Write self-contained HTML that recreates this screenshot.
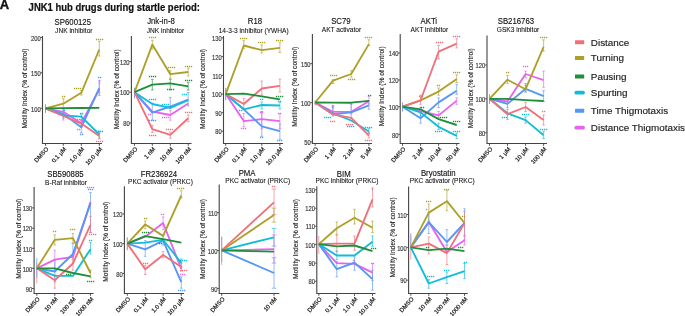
<!DOCTYPE html><html><head><meta charset="utf-8"><style>html,body{margin:0;padding:0;background:#fff;width:685px;height:316px;overflow:hidden}svg{display:block}#w{filter:blur(0.5px)}text{font-family:"Liberation Sans",sans-serif}</style></head><body><div id="w">
<svg width="685" height="316" viewBox="0 0 685 316">
<rect width="685" height="316" fill="#fff"/>
<text transform="translate(-0.3,9)" font-size="13" font-weight="bold" fill="#111" stroke="#111" stroke-width="0.35">A</text>
<text transform="translate(28.6,10.5) scale(1,1.12)" font-size="9.5" font-weight="bold" fill="#111" stroke="#111" stroke-width="0.2">JNK1 hub drugs during startle period:</text>
<text transform="translate(72.8,24.5) scale(1,1.1)" font-size="7.8" text-anchor="middle" fill="#111" stroke="#111" stroke-width="0.12">SP600125</text>
<text transform="translate(73.8,33)" font-size="6.6" text-anchor="middle" fill="#111" stroke="#111" stroke-width="0.08">JNK inhibitor</text>
<g fill="none" stroke-width="0.7" opacity="0.9"><path d="M45.5 104.3V112.9" stroke="#F0707A"/><path d="M45.5 104.3V112.9" stroke="#5597F5"/><path d="M63.3 98.7V108.5M62 98.7H64.6M62 108.5H64.6" stroke="#ADA02A"/><path d="M63.3 109V120M62 109H64.6M62 120H64.6" stroke="#E763EE"/><path d="M63.3 110V118M62 110H64.6M62 118H64.6" stroke="#5597F5"/><path d="M81.3 90.5V95M80 90.5H82.6M80 95H82.6" stroke="#ADA02A"/><path d="M81.3 114V120M80 114H82.6M80 120H82.6" stroke="#12BCD8"/><path d="M81.3 125.6V132.8M80 125.6H82.6M80 132.8H82.6" stroke="#5597F5"/><path d="M81.3 120V127M80 120H82.6M80 127H82.6" stroke="#E763EE"/><path d="M81.3 120V127M80 120H82.6M80 127H82.6" stroke="#F0707A"/><path d="M99.3 41.3V56M98 41.3H100.6M98 56H100.6" stroke="#ADA02A"/><path d="M99.3 81V95.4M98 81H100.6M98 95.4H100.6" stroke="#5597F5"/><path d="M99.3 83V93M98 83H100.6M98 93H100.6" stroke="#E763EE"/><path d="M99.3 131V138M98 131H100.6M98 138H100.6" stroke="#12BCD8"/><path d="M99.3 133V139M98 133H100.6M98 139H100.6" stroke="#F0707A"/></g>
<polyline points="45.5,108.3 63.3,111.9 81.3,123.2 99.3,89.3" fill="none" stroke="#E763EE" stroke-width="1.85" stroke-linejoin="round"/>
<polyline points="45.5,108.3 63.3,113.9 81.3,127.3 99.3,88.2" fill="none" stroke="#5597F5" stroke-width="1.85" stroke-linejoin="round"/>
<polyline points="45.5,108.3 63.3,115.4 81.3,116.6 99.3,134.5" fill="none" stroke="#12BCD8" stroke-width="1.85" stroke-linejoin="round"/>
<polyline points="45.5,108.3 63.3,103.7 81.3,92.8 99.3,49.5" fill="none" stroke="#ADA02A" stroke-width="1.85" stroke-linejoin="round"/>
<polyline points="45.5,108.3 63.3,116 81.3,123.6 99.3,135.9" fill="none" stroke="#F0707A" stroke-width="1.85" stroke-linejoin="round"/>
<polyline points="45.5,108.3 63.3,108.1 81.3,108 99.3,107.8" fill="none" stroke="#1F8F3A" stroke-width="1.85" stroke-linejoin="round"/>
<g><rect x="61.9" y="95.8" width="1.3" height="1.4" fill="#ADA02A"/><rect x="63.9" y="95.8" width="1.3" height="1.4" fill="#ADA02A"/><rect x="73.9" y="87.8" width="1.3" height="1.4" fill="#ADA02A"/><rect x="75.9" y="87.8" width="1.3" height="1.4" fill="#ADA02A"/><rect x="77.9" y="87.8" width="1.3" height="1.4" fill="#ADA02A"/><rect x="79.9" y="87.8" width="1.3" height="1.4" fill="#ADA02A"/><rect x="95.9" y="38.8" width="1.3" height="1.4" fill="#ADA02A"/><rect x="97.9" y="38.8" width="1.3" height="1.4" fill="#ADA02A"/><rect x="99.9" y="38.8" width="1.3" height="1.4" fill="#ADA02A"/><rect x="101.9" y="38.8" width="1.3" height="1.4" fill="#ADA02A"/><rect x="63.9" y="109.8" width="1.3" height="1.4" fill="#5597F5"/><rect x="79.9" y="112.8" width="1.3" height="1.4" fill="#12BCD8"/><rect x="81.9" y="112.8" width="1.3" height="1.4" fill="#12BCD8"/><rect x="76.9" y="118.8" width="1.3" height="1.4" fill="#F0707A"/><rect x="78.9" y="118.8" width="1.3" height="1.4" fill="#F0707A"/><rect x="76.9" y="128.8" width="1.3" height="1.4" fill="#E763EE"/><rect x="78.9" y="128.8" width="1.3" height="1.4" fill="#E763EE"/><rect x="79.9" y="133.8" width="1.3" height="1.4" fill="#5597F5"/><rect x="81.9" y="133.8" width="1.3" height="1.4" fill="#5597F5"/><rect x="97.9" y="76.8" width="1.3" height="1.4" fill="#5597F5"/><rect x="99.9" y="76.8" width="1.3" height="1.4" fill="#5597F5"/><rect x="98.9" y="79.8" width="1.3" height="1.4" fill="#E763EE"/><rect x="95.9" y="130.8" width="1.3" height="1.4" fill="#12BCD8"/><rect x="97.9" y="130.8" width="1.3" height="1.4" fill="#12BCD8"/><rect x="99.9" y="130.8" width="1.3" height="1.4" fill="#12BCD8"/><rect x="101.9" y="130.8" width="1.3" height="1.4" fill="#12BCD8"/><rect x="95.9" y="140.8" width="1.3" height="1.4" fill="#F0707A"/><rect x="97.9" y="140.8" width="1.3" height="1.4" fill="#F0707A"/><rect x="99.9" y="140.8" width="1.3" height="1.4" fill="#F0707A"/><rect x="101.9" y="140.8" width="1.3" height="1.4" fill="#F0707A"/></g>
<path d="M42.5 36V143.5H102" fill="none" stroke="#444" stroke-width="1.1"/>
<path d="M40.4 37.5H42.5" stroke="#444" stroke-width="0.9"/>
<text transform="translate(40.7,40.7) scale(1,1.2)" font-size="5.8" text-anchor="end" fill="#3a3a3a" stroke="#3a3a3a" stroke-width="0.15">200</text>
<path d="M40.4 72.8H42.5" stroke="#444" stroke-width="0.9"/>
<text transform="translate(40.7,76) scale(1,1.2)" font-size="5.8" text-anchor="end" fill="#3a3a3a" stroke="#3a3a3a" stroke-width="0.15">150</text>
<path d="M40.4 108.3H42.5" stroke="#444" stroke-width="0.9"/>
<text transform="translate(40.7,111.5) scale(1,1.2)" font-size="5.8" text-anchor="end" fill="#3a3a3a" stroke="#3a3a3a" stroke-width="0.15">100</text>
<path d="M45.5 143.5V145.8" stroke="#444" stroke-width="0.9"/>
<text transform="translate(48.8,149.4) rotate(-48)" font-size="6.0" text-anchor="end" fill="#222" stroke="#222" stroke-width="0.22">DMSO</text>
<path d="M63.3 143.5V145.8" stroke="#444" stroke-width="0.9"/>
<text transform="translate(66.6,149.4) rotate(-48)" font-size="6.0" text-anchor="end" fill="#222" stroke="#222" stroke-width="0.22">0.1 μM</text>
<path d="M81.3 143.5V145.8" stroke="#444" stroke-width="0.9"/>
<text transform="translate(84.6,149.4) rotate(-48)" font-size="6.0" text-anchor="end" fill="#222" stroke="#222" stroke-width="0.22">1.0 μM</text>
<path d="M99.3 143.5V145.8" stroke="#444" stroke-width="0.9"/>
<text transform="translate(102.6,149.4) rotate(-48)" font-size="6.0" text-anchor="end" fill="#222" stroke="#222" stroke-width="0.22">10.0 μM</text>
<text transform="translate(27.1,88.55) rotate(-90)" font-size="6.65" text-anchor="middle" fill="#222" stroke="#222" stroke-width="0.12">Motility Index (% of control)</text>
<text transform="translate(161,24.4) scale(1,1.1)" font-size="7.8" text-anchor="middle" fill="#111" stroke="#111" stroke-width="0.12">Jnk-in-8</text>
<text transform="translate(165.4,32.8)" font-size="6.6" text-anchor="middle" fill="#111" stroke="#111" stroke-width="0.08">JNK inhibitor</text>
<g fill="none" stroke-width="0.7" opacity="0.9"><path d="M134.5 87.9V98.3" stroke="#F0707A"/><path d="M134.5 87.9V98.3" stroke="#5597F5"/><path d="M152.3 40.2V49M151 40.2H153.6M151 49H153.6" stroke="#ADA02A"/><path d="M152.3 79.4V90M151 79.4H153.6M151 90H153.6" stroke="#1F8F3A"/><path d="M152.3 103V120.2M151 103H153.6M151 120.2H153.6" stroke="#5597F5"/><path d="M152.3 125.3V132.5M151 125.3H153.6M151 132.5H153.6" stroke="#F0707A"/><path d="M170.3 70.7V78.2M169 70.7H171.6M169 78.2H171.6" stroke="#ADA02A"/><path d="M170.3 79.4V89.8M169 79.4H171.6M169 89.8H171.6" stroke="#1F8F3A"/><path d="M170.3 97.4V108.8M169 97.4H171.6M169 108.8H171.6" stroke="#5597F5"/><path d="M170.3 110.7V120.2M169 110.7H171.6M169 120.2H171.6" stroke="#E763EE"/><path d="M170.3 132.1V138.2M169 132.1H171.6M169 138.2H171.6" stroke="#F0707A"/><path d="M188.2 68.1V76M186.9 68.1H189.5M186.9 76H189.5" stroke="#ADA02A"/><path d="M188.2 82.4V90M186.9 82.4H189.5M186.9 90H189.5" stroke="#1F8F3A"/><path d="M188.2 92.6V105.9M186.9 92.6H189.5M186.9 105.9H189.5" stroke="#5597F5"/><path d="M188.2 115V121.6M186.9 115H189.5M186.9 121.6H189.5" stroke="#F0707A"/></g>
<polyline points="134.5,92.2 152.3,111.6 170.3,115 188.2,103.5" fill="none" stroke="#E763EE" stroke-width="1.85" stroke-linejoin="round"/>
<polyline points="134.5,92.2 152.3,112.6 170.3,106.5 188.2,99.7" fill="none" stroke="#5597F5" stroke-width="1.85" stroke-linejoin="round"/>
<polyline points="134.5,92.2 152.3,104 170.3,107.8 188.2,100.2" fill="none" stroke="#12BCD8" stroke-width="1.85" stroke-linejoin="round"/>
<polyline points="134.5,92.2 152.3,44.6 170.3,74.2 188.2,72" fill="none" stroke="#ADA02A" stroke-width="1.85" stroke-linejoin="round"/>
<polyline points="134.5,92.2 152.3,129.1 170.3,134.9 188.2,118.3" fill="none" stroke="#F0707A" stroke-width="1.85" stroke-linejoin="round"/>
<polyline points="134.5,92.2 152.3,84.7 170.3,83.4 188.2,86.4" fill="none" stroke="#1F8F3A" stroke-width="1.85" stroke-linejoin="round"/>
<g><rect x="148.9" y="36.8" width="1.3" height="1.4" fill="#ADA02A"/><rect x="150.9" y="36.8" width="1.3" height="1.4" fill="#ADA02A"/><rect x="152.9" y="36.8" width="1.3" height="1.4" fill="#ADA02A"/><rect x="154.9" y="36.8" width="1.3" height="1.4" fill="#ADA02A"/><rect x="167.9" y="66.8" width="1.3" height="1.4" fill="#ADA02A"/><rect x="169.9" y="66.8" width="1.3" height="1.4" fill="#ADA02A"/><rect x="171.9" y="66.8" width="1.3" height="1.4" fill="#ADA02A"/><rect x="173.9" y="66.8" width="1.3" height="1.4" fill="#ADA02A"/><rect x="184.9" y="65.8" width="1.3" height="1.4" fill="#ADA02A"/><rect x="186.9" y="65.8" width="1.3" height="1.4" fill="#ADA02A"/><rect x="188.9" y="65.8" width="1.3" height="1.4" fill="#ADA02A"/><rect x="190.9" y="65.8" width="1.3" height="1.4" fill="#ADA02A"/><rect x="148.9" y="75.8" width="1.3" height="1.4" fill="#1F8F3A"/><rect x="150.9" y="75.8" width="1.3" height="1.4" fill="#1F8F3A"/><rect x="152.9" y="75.8" width="1.3" height="1.4" fill="#1F8F3A"/><rect x="154.9" y="75.8" width="1.3" height="1.4" fill="#1F8F3A"/><rect x="166.9" y="88.8" width="1.3" height="1.4" fill="#1F8F3A"/><rect x="168.9" y="88.8" width="1.3" height="1.4" fill="#1F8F3A"/><rect x="170.9" y="88.8" width="1.3" height="1.4" fill="#1F8F3A"/><rect x="172.9" y="88.8" width="1.3" height="1.4" fill="#1F8F3A"/><rect x="184.9" y="79.8" width="1.3" height="1.4" fill="#1F8F3A"/><rect x="186.9" y="79.8" width="1.3" height="1.4" fill="#1F8F3A"/><rect x="188.9" y="79.8" width="1.3" height="1.4" fill="#1F8F3A"/><rect x="190.9" y="79.8" width="1.3" height="1.4" fill="#1F8F3A"/><rect x="148.9" y="98.8" width="1.3" height="1.4" fill="#12BCD8"/><rect x="150.9" y="98.8" width="1.3" height="1.4" fill="#12BCD8"/><rect x="152.9" y="98.8" width="1.3" height="1.4" fill="#12BCD8"/><rect x="154.9" y="98.8" width="1.3" height="1.4" fill="#12BCD8"/><rect x="148.9" y="119.8" width="1.3" height="1.4" fill="#5597F5"/><rect x="150.9" y="119.8" width="1.3" height="1.4" fill="#5597F5"/><rect x="152.9" y="119.8" width="1.3" height="1.4" fill="#5597F5"/><rect x="154.9" y="119.8" width="1.3" height="1.4" fill="#5597F5"/><rect x="147.9" y="113.8" width="1.3" height="1.4" fill="#E763EE"/><rect x="149.9" y="113.8" width="1.3" height="1.4" fill="#E763EE"/><rect x="148.9" y="134.8" width="1.3" height="1.4" fill="#F0707A"/><rect x="150.9" y="134.8" width="1.3" height="1.4" fill="#F0707A"/><rect x="152.9" y="134.8" width="1.3" height="1.4" fill="#F0707A"/><rect x="154.9" y="134.8" width="1.3" height="1.4" fill="#F0707A"/><rect x="161.9" y="103.8" width="1.3" height="1.4" fill="#12BCD8"/><rect x="163.9" y="103.8" width="1.3" height="1.4" fill="#12BCD8"/><rect x="165.9" y="103.8" width="1.3" height="1.4" fill="#12BCD8"/><rect x="167.9" y="103.8" width="1.3" height="1.4" fill="#12BCD8"/><rect x="161.9" y="116.8" width="1.3" height="1.4" fill="#E763EE"/><rect x="163.9" y="116.8" width="1.3" height="1.4" fill="#E763EE"/><rect x="165.9" y="116.8" width="1.3" height="1.4" fill="#E763EE"/><rect x="167.9" y="116.8" width="1.3" height="1.4" fill="#E763EE"/><rect x="165.9" y="128.8" width="1.3" height="1.4" fill="#F0707A"/><rect x="167.9" y="128.8" width="1.3" height="1.4" fill="#F0707A"/><rect x="169.9" y="128.8" width="1.3" height="1.4" fill="#F0707A"/><rect x="171.9" y="128.8" width="1.3" height="1.4" fill="#F0707A"/><rect x="181.9" y="93.8" width="1.3" height="1.4" fill="#12BCD8"/><rect x="183.9" y="93.8" width="1.3" height="1.4" fill="#12BCD8"/><rect x="185.9" y="93.8" width="1.3" height="1.4" fill="#12BCD8"/><rect x="184.9" y="111.8" width="1.3" height="1.4" fill="#F0707A"/><rect x="186.9" y="111.8" width="1.3" height="1.4" fill="#F0707A"/><rect x="188.9" y="111.8" width="1.3" height="1.4" fill="#F0707A"/><rect x="190.9" y="111.8" width="1.3" height="1.4" fill="#F0707A"/></g>
<path d="M131.4 36V143.5H191.5" fill="none" stroke="#444" stroke-width="1.1"/>
<path d="M129.3 61.5H131.4" stroke="#444" stroke-width="0.9"/>
<text transform="translate(129.6,64.7) scale(1,1.2)" font-size="5.8" text-anchor="end" fill="#3a3a3a" stroke="#3a3a3a" stroke-width="0.15">120</text>
<path d="M129.3 92.2H131.4" stroke="#444" stroke-width="0.9"/>
<text transform="translate(129.6,95.4) scale(1,1.2)" font-size="5.8" text-anchor="end" fill="#3a3a3a" stroke="#3a3a3a" stroke-width="0.15">100</text>
<path d="M129.3 123H131.4" stroke="#444" stroke-width="0.9"/>
<text transform="translate(129.6,126.2) scale(1,1.2)" font-size="5.8" text-anchor="end" fill="#3a3a3a" stroke="#3a3a3a" stroke-width="0.15">80</text>
<path d="M134.5 143.5V145.8" stroke="#444" stroke-width="0.9"/>
<text transform="translate(137.8,149.4) rotate(-48)" font-size="6.0" text-anchor="end" fill="#222" stroke="#222" stroke-width="0.22">DMSO</text>
<path d="M152.3 143.5V145.8" stroke="#444" stroke-width="0.9"/>
<text transform="translate(155.6,149.4) rotate(-48)" font-size="6.0" text-anchor="end" fill="#222" stroke="#222" stroke-width="0.22">1 nM</text>
<path d="M170.3 143.5V145.8" stroke="#444" stroke-width="0.9"/>
<text transform="translate(173.6,149.4) rotate(-48)" font-size="6.0" text-anchor="end" fill="#222" stroke="#222" stroke-width="0.22">10 nM</text>
<path d="M188.2 143.5V145.8" stroke="#444" stroke-width="0.9"/>
<text transform="translate(191.5,149.4) rotate(-48)" font-size="6.0" text-anchor="end" fill="#222" stroke="#222" stroke-width="0.22">100 nM</text>
<text transform="translate(119,89.25) rotate(-90)" font-size="6.65" text-anchor="middle" fill="#222" stroke="#222" stroke-width="0.12">Motility Index (% of control)</text>
<text transform="translate(254.9,24.2) scale(1,1.1)" font-size="7.8" text-anchor="middle" fill="#111" stroke="#111" stroke-width="0.12">R18</text>
<text transform="translate(253.7,32.8)" font-size="6.6" text-anchor="middle" fill="#111" stroke="#111" stroke-width="0.08">14-3-3 inhibitor (YWHA)</text>
<g fill="none" stroke-width="0.7" opacity="0.9"><path d="M225.7 87.9V100.2" stroke="#F0707A"/><path d="M225.7 87.9V100.2" stroke="#5597F5"/><path d="M243.8 40.7V48.3M242.5 40.7H245.1M242.5 48.3H245.1" stroke="#ADA02A"/><path d="M243.8 98.3V109.7M242.5 98.3H245.1M242.5 109.7H245.1" stroke="#F0707A"/><path d="M243.8 113.5V126.8M242.5 113.5H245.1M242.5 126.8H245.1" stroke="#E763EE"/><path d="M261.8 44.9V53M260.5 44.9H263.1M260.5 53H263.1" stroke="#ADA02A"/><path d="M261.8 81V95M260.5 81H263.1M260.5 95H263.1" stroke="#F0707A"/><path d="M261.8 102V108.8M260.5 102H263.1M260.5 108.8H263.1" stroke="#12BCD8"/><path d="M261.8 111.6V136.3M260.5 111.6H263.1M260.5 136.3H263.1" stroke="#5597F5"/><path d="M261.8 111.6V128.7M260.5 111.6H263.1M260.5 128.7H263.1" stroke="#E763EE"/><path d="M279.9 42.6V52.5M278.6 42.6H281.2M278.6 52.5H281.2" stroke="#ADA02A"/><path d="M279.9 79.1V92M278.6 79.1H281.2M278.6 92H281.2" stroke="#F0707A"/><path d="M279.9 124V139.2M278.6 124H281.2M278.6 139.2H281.2" stroke="#5597F5"/><path d="M279.9 113.5V128.7M278.6 113.5H281.2M278.6 128.7H281.2" stroke="#E763EE"/><path d="M279.9 102V109M278.6 102H281.2M278.6 109H281.2" stroke="#12BCD8"/></g>
<polyline points="225.7,94.1 243.8,121.1 261.8,119.2 279.9,121.1" fill="none" stroke="#E763EE" stroke-width="1.85" stroke-linejoin="round"/>
<polyline points="225.7,94.1 243.8,109.3 261.8,126.4 279.9,131.2" fill="none" stroke="#5597F5" stroke-width="1.85" stroke-linejoin="round"/>
<polyline points="225.7,94.1 243.8,109.3 261.8,105 279.9,105.5" fill="none" stroke="#12BCD8" stroke-width="1.85" stroke-linejoin="round"/>
<polyline points="225.7,94.1 243.8,45.5 261.8,50.2 279.9,47.9" fill="none" stroke="#ADA02A" stroke-width="1.85" stroke-linejoin="round"/>
<polyline points="225.7,94.1 243.8,104 261.8,88.5 279.9,85.8" fill="none" stroke="#F0707A" stroke-width="1.85" stroke-linejoin="round"/>
<polyline points="225.7,94.1 243.8,93.6 261.8,96.4 279.9,99.3" fill="none" stroke="#1F8F3A" stroke-width="1.85" stroke-linejoin="round"/>
<g><rect x="239.9" y="37.8" width="1.3" height="1.4" fill="#ADA02A"/><rect x="241.9" y="37.8" width="1.3" height="1.4" fill="#ADA02A"/><rect x="243.9" y="37.8" width="1.3" height="1.4" fill="#ADA02A"/><rect x="245.9" y="37.8" width="1.3" height="1.4" fill="#ADA02A"/><rect x="257.9" y="41.8" width="1.3" height="1.4" fill="#ADA02A"/><rect x="259.9" y="41.8" width="1.3" height="1.4" fill="#ADA02A"/><rect x="261.9" y="41.8" width="1.3" height="1.4" fill="#ADA02A"/><rect x="263.9" y="41.8" width="1.3" height="1.4" fill="#ADA02A"/><rect x="275.9" y="39.8" width="1.3" height="1.4" fill="#ADA02A"/><rect x="277.9" y="39.8" width="1.3" height="1.4" fill="#ADA02A"/><rect x="279.9" y="39.8" width="1.3" height="1.4" fill="#ADA02A"/><rect x="281.9" y="39.8" width="1.3" height="1.4" fill="#ADA02A"/><rect x="275.9" y="95.8" width="1.3" height="1.4" fill="#1F8F3A"/><rect x="277.9" y="95.8" width="1.3" height="1.4" fill="#1F8F3A"/><rect x="279.9" y="95.8" width="1.3" height="1.4" fill="#1F8F3A"/><rect x="281.9" y="95.8" width="1.3" height="1.4" fill="#1F8F3A"/><rect x="238.9" y="109.8" width="1.3" height="1.4" fill="#12BCD8"/><rect x="240.9" y="109.8" width="1.3" height="1.4" fill="#12BCD8"/><rect x="259.9" y="98.8" width="1.3" height="1.4" fill="#12BCD8"/><rect x="261.9" y="98.8" width="1.3" height="1.4" fill="#12BCD8"/><rect x="277.9" y="100.8" width="1.3" height="1.4" fill="#12BCD8"/><rect x="279.9" y="100.8" width="1.3" height="1.4" fill="#12BCD8"/><rect x="259.9" y="136.8" width="1.3" height="1.4" fill="#5597F5"/><rect x="261.9" y="136.8" width="1.3" height="1.4" fill="#5597F5"/><rect x="276.9" y="139.8" width="1.3" height="1.4" fill="#5597F5"/><rect x="278.9" y="139.8" width="1.3" height="1.4" fill="#5597F5"/><rect x="280.9" y="139.8" width="1.3" height="1.4" fill="#5597F5"/><rect x="240.9" y="127.8" width="1.3" height="1.4" fill="#E763EE"/><rect x="242.9" y="127.8" width="1.3" height="1.4" fill="#E763EE"/><rect x="244.9" y="127.8" width="1.3" height="1.4" fill="#E763EE"/><rect x="259.9" y="111.8" width="1.3" height="1.4" fill="#E763EE"/><rect x="261.9" y="111.8" width="1.3" height="1.4" fill="#E763EE"/><rect x="277.9" y="112.8" width="1.3" height="1.4" fill="#E763EE"/><rect x="279.9" y="112.8" width="1.3" height="1.4" fill="#E763EE"/></g>
<path d="M223.5 36V143.5H283" fill="none" stroke="#444" stroke-width="1.1"/>
<path d="M221.4 37.9H223.5" stroke="#444" stroke-width="0.9"/>
<text transform="translate(221.7,41.1) scale(1,1.2)" font-size="5.8" text-anchor="end" fill="#3a3a3a" stroke="#3a3a3a" stroke-width="0.15">130</text>
<path d="M221.4 56.6H223.5" stroke="#444" stroke-width="0.9"/>
<text transform="translate(221.7,59.8) scale(1,1.2)" font-size="5.8" text-anchor="end" fill="#3a3a3a" stroke="#3a3a3a" stroke-width="0.15">120</text>
<path d="M221.4 75.4H223.5" stroke="#444" stroke-width="0.9"/>
<text transform="translate(221.7,78.6) scale(1,1.2)" font-size="5.8" text-anchor="end" fill="#3a3a3a" stroke="#3a3a3a" stroke-width="0.15">110</text>
<path d="M221.4 94.1H223.5" stroke="#444" stroke-width="0.9"/>
<text transform="translate(221.7,97.3) scale(1,1.2)" font-size="5.8" text-anchor="end" fill="#3a3a3a" stroke="#3a3a3a" stroke-width="0.15">100</text>
<path d="M221.4 112.7H223.5" stroke="#444" stroke-width="0.9"/>
<text transform="translate(221.7,115.9) scale(1,1.2)" font-size="5.8" text-anchor="end" fill="#3a3a3a" stroke="#3a3a3a" stroke-width="0.15">90</text>
<path d="M221.4 131.2H223.5" stroke="#444" stroke-width="0.9"/>
<text transform="translate(221.7,134.4) scale(1,1.2)" font-size="5.8" text-anchor="end" fill="#3a3a3a" stroke="#3a3a3a" stroke-width="0.15">80</text>
<path d="M225.7 143.5V145.8" stroke="#444" stroke-width="0.9"/>
<text transform="translate(229,149.4) rotate(-48)" font-size="6.0" text-anchor="end" fill="#222" stroke="#222" stroke-width="0.22">DMSO</text>
<path d="M243.8 143.5V145.8" stroke="#444" stroke-width="0.9"/>
<text transform="translate(247.1,149.4) rotate(-48)" font-size="6.0" text-anchor="end" fill="#222" stroke="#222" stroke-width="0.22">0.1 μM</text>
<path d="M261.8 143.5V145.8" stroke="#444" stroke-width="0.9"/>
<text transform="translate(265.1,149.4) rotate(-48)" font-size="6.0" text-anchor="end" fill="#222" stroke="#222" stroke-width="0.22">1.0 μM</text>
<path d="M279.9 143.5V145.8" stroke="#444" stroke-width="0.9"/>
<text transform="translate(283.2,149.4) rotate(-48)" font-size="6.0" text-anchor="end" fill="#222" stroke="#222" stroke-width="0.22">10.0 μM</text>
<text transform="translate(205.2,88.95) rotate(-90)" font-size="6.65" text-anchor="middle" fill="#222" stroke="#222" stroke-width="0.12">Motility Index (% of control)</text>
<text transform="translate(340.9,23.5) scale(1,1.1)" font-size="7.8" text-anchor="middle" fill="#111" stroke="#111" stroke-width="0.12">SC79</text>
<text transform="translate(341.5,32.2)" font-size="6.6" text-anchor="middle" fill="#111" stroke="#111" stroke-width="0.08">AKT activator</text>
<g fill="none" stroke-width="0.7" opacity="0.9"><path d="M315.2 100.5V105.3" stroke="#F0707A"/><path d="M315.2 100.5V105.3" stroke="#5597F5"/><path d="M333 79.7V83.5M331.7 79.7H334.3M331.7 83.5H334.3" stroke="#ADA02A"/><path d="M333 106.6V114.4M331.7 106.6H334.3M331.7 114.4H334.3" stroke="#E763EE"/><path d="M333 105.7V116.1M331.7 105.7H334.3M331.7 116.1H334.3" stroke="#5597F5"/><path d="M351.2 70.7V77.2M349.9 70.7H352.5M349.9 77.2H352.5" stroke="#ADA02A"/><path d="M351.2 104V114M349.9 104H352.5M349.9 114H352.5" stroke="#E763EE"/><path d="M351.2 104V117.9M349.9 104H352.5M349.9 117.9H352.5" stroke="#5597F5"/><path d="M368.9 39.8V45.5M367.6 39.8H370.2M367.6 45.5H370.2" stroke="#ADA02A"/><path d="M368.9 96.6V104M367.6 96.6H370.2M367.6 104H370.2" stroke="#E763EE"/><path d="M368.9 100.5V109.2M367.6 100.5H370.2M367.6 109.2H370.2" stroke="#5597F5"/><path d="M368.9 132.7V137.9M367.6 132.7H370.2M367.6 137.9H370.2" stroke="#F0707A"/><path d="M368.9 128.7V133.6M367.6 128.7H370.2M367.6 133.6H370.2" stroke="#12BCD8"/></g>
<polyline points="315.2,102.5 333,111.8 351.2,111.8 368.9,101.3" fill="none" stroke="#E763EE" stroke-width="1.85" stroke-linejoin="round"/>
<polyline points="315.2,102.5 333,114.4 351.2,112.3 368.9,105.3" fill="none" stroke="#5597F5" stroke-width="1.85" stroke-linejoin="round"/>
<polyline points="315.2,102.5 333,113.5 351.2,120.5 368.9,131.5" fill="none" stroke="#12BCD8" stroke-width="1.85" stroke-linejoin="round"/>
<polyline points="315.2,102.5 333,80.6 351.2,74 368.9,44.1" fill="none" stroke="#ADA02A" stroke-width="1.85" stroke-linejoin="round"/>
<polyline points="315.2,102.5 333,114.4 351.2,117.9 368.9,135.7" fill="none" stroke="#F0707A" stroke-width="1.85" stroke-linejoin="round"/>
<polyline points="315.2,102.5 333,102.7 351.2,102.7 368.9,100.8" fill="none" stroke="#1F8F3A" stroke-width="1.85" stroke-linejoin="round"/>
<g><rect x="329.9" y="74.8" width="1.3" height="1.4" fill="#ADA02A"/><rect x="331.9" y="74.8" width="1.3" height="1.4" fill="#ADA02A"/><rect x="333.9" y="74.8" width="1.3" height="1.4" fill="#ADA02A"/><rect x="335.9" y="74.8" width="1.3" height="1.4" fill="#ADA02A"/><rect x="347.9" y="78.8" width="1.3" height="1.4" fill="#ADA02A"/><rect x="349.9" y="78.8" width="1.3" height="1.4" fill="#ADA02A"/><rect x="351.9" y="78.8" width="1.3" height="1.4" fill="#ADA02A"/><rect x="353.9" y="78.8" width="1.3" height="1.4" fill="#ADA02A"/><rect x="364.9" y="36.8" width="1.3" height="1.4" fill="#ADA02A"/><rect x="366.9" y="36.8" width="1.3" height="1.4" fill="#ADA02A"/><rect x="368.9" y="36.8" width="1.3" height="1.4" fill="#ADA02A"/><rect x="370.9" y="36.8" width="1.3" height="1.4" fill="#ADA02A"/><rect x="367.9" y="94.8" width="1.3" height="1.4" fill="#1F8F3A"/><rect x="369.9" y="94.8" width="1.3" height="1.4" fill="#1F8F3A"/><rect x="331.9" y="104.8" width="1.3" height="1.4" fill="#E763EE"/><rect x="331.9" y="106.8" width="1.3" height="1.4" fill="#5597F5"/><rect x="329.9" y="120.8" width="1.3" height="1.4" fill="#F0707A"/><rect x="331.9" y="120.8" width="1.3" height="1.4" fill="#F0707A"/><rect x="333.9" y="120.8" width="1.3" height="1.4" fill="#F0707A"/><rect x="345.9" y="123.8" width="1.3" height="1.4" fill="#F0707A"/><rect x="347.9" y="123.8" width="1.3" height="1.4" fill="#F0707A"/><rect x="349.9" y="123.8" width="1.3" height="1.4" fill="#F0707A"/><rect x="351.9" y="123.8" width="1.3" height="1.4" fill="#F0707A"/><rect x="364.9" y="139.8" width="1.3" height="1.4" fill="#F0707A"/><rect x="366.9" y="139.8" width="1.3" height="1.4" fill="#F0707A"/><rect x="368.9" y="139.8" width="1.3" height="1.4" fill="#F0707A"/><rect x="370.9" y="139.8" width="1.3" height="1.4" fill="#F0707A"/><rect x="323.9" y="116.8" width="1.3" height="1.4" fill="#12BCD8"/><rect x="325.9" y="116.8" width="1.3" height="1.4" fill="#12BCD8"/><rect x="327.9" y="116.8" width="1.3" height="1.4" fill="#12BCD8"/><rect x="329.9" y="116.8" width="1.3" height="1.4" fill="#12BCD8"/><rect x="346.9" y="125.8" width="1.3" height="1.4" fill="#12BCD8"/><rect x="348.9" y="125.8" width="1.3" height="1.4" fill="#12BCD8"/><rect x="350.9" y="125.8" width="1.3" height="1.4" fill="#12BCD8"/><rect x="352.9" y="125.8" width="1.3" height="1.4" fill="#12BCD8"/><rect x="364.9" y="126.8" width="1.3" height="1.4" fill="#12BCD8"/><rect x="366.9" y="126.8" width="1.3" height="1.4" fill="#12BCD8"/><rect x="368.9" y="126.8" width="1.3" height="1.4" fill="#12BCD8"/><rect x="370.9" y="126.8" width="1.3" height="1.4" fill="#12BCD8"/></g>
<path d="M312.4 34V143.5H372" fill="none" stroke="#444" stroke-width="1.1"/>
<path d="M310.3 63.6H312.4" stroke="#444" stroke-width="0.9"/>
<text transform="translate(310.6,66.8) scale(1,1.2)" font-size="5.8" text-anchor="end" fill="#3a3a3a" stroke="#3a3a3a" stroke-width="0.15">150</text>
<path d="M310.3 102.6H312.4" stroke="#444" stroke-width="0.9"/>
<text transform="translate(310.6,105.8) scale(1,1.2)" font-size="5.8" text-anchor="end" fill="#3a3a3a" stroke="#3a3a3a" stroke-width="0.15">100</text>
<path d="M310.3 141.9H312.4" stroke="#444" stroke-width="0.9"/>
<text transform="translate(310.6,145.1) scale(1,1.2)" font-size="5.8" text-anchor="end" fill="#3a3a3a" stroke="#3a3a3a" stroke-width="0.15">50</text>
<path d="M315.2 143.5V145.8" stroke="#444" stroke-width="0.9"/>
<text transform="translate(318.5,149.4) rotate(-48)" font-size="6.0" text-anchor="end" fill="#222" stroke="#222" stroke-width="0.22">DMSO</text>
<path d="M333 143.5V145.8" stroke="#444" stroke-width="0.9"/>
<text transform="translate(336.3,149.4) rotate(-48)" font-size="6.0" text-anchor="end" fill="#222" stroke="#222" stroke-width="0.22">1 μM</text>
<path d="M351.2 143.5V145.8" stroke="#444" stroke-width="0.9"/>
<text transform="translate(354.5,149.4) rotate(-48)" font-size="6.0" text-anchor="end" fill="#222" stroke="#222" stroke-width="0.22">2 μM</text>
<path d="M368.9 143.5V145.8" stroke="#444" stroke-width="0.9"/>
<text transform="translate(372.2,149.4) rotate(-48)" font-size="6.0" text-anchor="end" fill="#222" stroke="#222" stroke-width="0.22">5 μM</text>
<text transform="translate(296.7,86.8) rotate(-90)" font-size="6.65" text-anchor="middle" fill="#222" stroke="#222" stroke-width="0.12">Motility Index (% of control)</text>
<text transform="translate(428.8,23.5) scale(1,1.1)" font-size="7.8" text-anchor="middle" fill="#111" stroke="#111" stroke-width="0.12">AKTi</text>
<text transform="translate(429.4,32.2)" font-size="6.6" text-anchor="middle" fill="#111" stroke="#111" stroke-width="0.08">AKT inhibitor</text>
<g fill="none" stroke-width="0.7" opacity="0.9"><path d="M402.5 102.4V111.5" stroke="#F0707A"/><path d="M402.5 102.4V111.5" stroke="#5597F5"/><path d="M420.6 95.2V104.3M419.3 95.2H421.9M419.3 104.3H421.9" stroke="#F0707A"/><path d="M420.6 113.3V123.2M419.3 113.3H421.9M419.3 123.2H421.9" stroke="#5597F5"/><path d="M420.6 107.9V116M419.3 107.9H421.9M419.3 116H421.9" stroke="#12BCD8"/><path d="M438.6 45.5V58.8M437.3 45.5H439.9M437.3 58.8H439.9" stroke="#F0707A"/><path d="M438.6 88V95.2M437.3 88H439.9M437.3 95.2H439.9" stroke="#ADA02A"/><path d="M438.6 97.9V107.5M437.3 97.9H439.9M437.3 107.5H439.9" stroke="#5597F5"/><path d="M438.6 111.5V117.8M437.3 111.5H439.9M437.3 117.8H439.9" stroke="#E763EE"/><path d="M438.6 123.2V129.5M437.3 123.2H439.9M437.3 129.5H439.9" stroke="#12BCD8"/><path d="M456.7 38.8V47.9M455.4 38.8H458M455.4 47.9H458" stroke="#F0707A"/><path d="M456.7 74.9V82.5M455.4 74.9H458M455.4 82.5H458" stroke="#ADA02A"/><path d="M456.7 84.4V94.3M455.4 84.4H458M455.4 94.3H458" stroke="#5597F5"/><path d="M456.7 97.9V104.3M455.4 97.9H458M455.4 104.3H458" stroke="#E763EE"/><path d="M456.7 133.1V138.6M455.4 133.1H458M455.4 138.6H458" stroke="#12BCD8"/></g>
<polyline points="402.5,106.7 420.6,111.1 438.6,115.4 456.7,100.6" fill="none" stroke="#E763EE" stroke-width="1.85" stroke-linejoin="round"/>
<polyline points="402.5,106.7 420.6,118.3 438.6,102.4 456.7,90.7" fill="none" stroke="#5597F5" stroke-width="1.85" stroke-linejoin="round"/>
<polyline points="402.5,106.7 420.6,112.4 438.6,126.8 456.7,135.9" fill="none" stroke="#12BCD8" stroke-width="1.85" stroke-linejoin="round"/>
<polyline points="402.5,106.7 420.6,100.3 438.6,91.6 456.7,79.1" fill="none" stroke="#ADA02A" stroke-width="1.85" stroke-linejoin="round"/>
<polyline points="402.5,106.7 420.6,100.3 438.6,51.7 456.7,43.6" fill="none" stroke="#F0707A" stroke-width="1.85" stroke-linejoin="round"/>
<polyline points="402.5,106.7 420.6,109.3 438.6,119.1 456.7,125" fill="none" stroke="#1F8F3A" stroke-width="1.85" stroke-linejoin="round"/>
<g><rect x="435.9" y="41.8" width="1.3" height="1.4" fill="#F0707A"/><rect x="437.9" y="41.8" width="1.3" height="1.4" fill="#F0707A"/><rect x="439.9" y="41.8" width="1.3" height="1.4" fill="#F0707A"/><rect x="441.9" y="41.8" width="1.3" height="1.4" fill="#F0707A"/><rect x="452.9" y="35.8" width="1.3" height="1.4" fill="#F0707A"/><rect x="454.9" y="35.8" width="1.3" height="1.4" fill="#F0707A"/><rect x="456.9" y="35.8" width="1.3" height="1.4" fill="#F0707A"/><rect x="458.9" y="35.8" width="1.3" height="1.4" fill="#F0707A"/><rect x="436.9" y="84.8" width="1.3" height="1.4" fill="#ADA02A"/><rect x="438.9" y="84.8" width="1.3" height="1.4" fill="#ADA02A"/><rect x="452.9" y="71.8" width="1.3" height="1.4" fill="#ADA02A"/><rect x="454.9" y="71.8" width="1.3" height="1.4" fill="#ADA02A"/><rect x="456.9" y="71.8" width="1.3" height="1.4" fill="#ADA02A"/><rect x="458.9" y="71.8" width="1.3" height="1.4" fill="#ADA02A"/><rect x="418.9" y="95.8" width="1.3" height="1.4" fill="#F0707A"/><rect x="420.9" y="95.8" width="1.3" height="1.4" fill="#F0707A"/><rect x="420.9" y="106.8" width="1.3" height="1.4" fill="#1F8F3A"/><rect x="422.9" y="106.8" width="1.3" height="1.4" fill="#1F8F3A"/><rect x="419.9" y="106.8" width="1.3" height="1.4" fill="#5597F5"/><rect x="439.9" y="116.8" width="1.3" height="1.4" fill="#1F8F3A"/><rect x="441.9" y="116.8" width="1.3" height="1.4" fill="#1F8F3A"/><rect x="443.9" y="116.8" width="1.3" height="1.4" fill="#1F8F3A"/><rect x="445.9" y="116.8" width="1.3" height="1.4" fill="#1F8F3A"/><rect x="452.9" y="120.8" width="1.3" height="1.4" fill="#1F8F3A"/><rect x="454.9" y="120.8" width="1.3" height="1.4" fill="#1F8F3A"/><rect x="456.9" y="120.8" width="1.3" height="1.4" fill="#1F8F3A"/><rect x="458.9" y="120.8" width="1.3" height="1.4" fill="#1F8F3A"/><rect x="434.9" y="130.8" width="1.3" height="1.4" fill="#12BCD8"/><rect x="436.9" y="130.8" width="1.3" height="1.4" fill="#12BCD8"/><rect x="438.9" y="130.8" width="1.3" height="1.4" fill="#12BCD8"/><rect x="440.9" y="130.8" width="1.3" height="1.4" fill="#12BCD8"/><rect x="452.9" y="130.8" width="1.3" height="1.4" fill="#12BCD8"/><rect x="454.9" y="130.8" width="1.3" height="1.4" fill="#12BCD8"/><rect x="456.9" y="130.8" width="1.3" height="1.4" fill="#12BCD8"/><rect x="458.9" y="130.8" width="1.3" height="1.4" fill="#12BCD8"/></g>
<path d="M400.2 34V143.5H459.5" fill="none" stroke="#444" stroke-width="1.1"/>
<path d="M398.1 53H400.2" stroke="#444" stroke-width="0.9"/>
<text transform="translate(398.4,56.2) scale(1,1.2)" font-size="5.8" text-anchor="end" fill="#3a3a3a" stroke="#3a3a3a" stroke-width="0.15">140</text>
<path d="M398.1 80H400.2" stroke="#444" stroke-width="0.9"/>
<text transform="translate(398.4,83.2) scale(1,1.2)" font-size="5.8" text-anchor="end" fill="#3a3a3a" stroke="#3a3a3a" stroke-width="0.15">120</text>
<path d="M398.1 106.7H400.2" stroke="#444" stroke-width="0.9"/>
<text transform="translate(398.4,109.9) scale(1,1.2)" font-size="5.8" text-anchor="end" fill="#3a3a3a" stroke="#3a3a3a" stroke-width="0.15">100</text>
<path d="M398.1 134.3H400.2" stroke="#444" stroke-width="0.9"/>
<text transform="translate(398.4,137.5) scale(1,1.2)" font-size="5.8" text-anchor="end" fill="#3a3a3a" stroke="#3a3a3a" stroke-width="0.15">80</text>
<path d="M402.5 143.5V145.8" stroke="#444" stroke-width="0.9"/>
<text transform="translate(405.8,149.4) rotate(-48)" font-size="6.0" text-anchor="end" fill="#222" stroke="#222" stroke-width="0.22">DMSO</text>
<path d="M420.6 143.5V145.8" stroke="#444" stroke-width="0.9"/>
<text transform="translate(423.9,149.4) rotate(-48)" font-size="6.0" text-anchor="end" fill="#222" stroke="#222" stroke-width="0.22">2 μM</text>
<path d="M438.6 143.5V145.8" stroke="#444" stroke-width="0.9"/>
<text transform="translate(441.9,149.4) rotate(-48)" font-size="6.0" text-anchor="end" fill="#222" stroke="#222" stroke-width="0.22">10 μM</text>
<path d="M456.7 143.5V145.8" stroke="#444" stroke-width="0.9"/>
<text transform="translate(460,149.4) rotate(-48)" font-size="6.0" text-anchor="end" fill="#222" stroke="#222" stroke-width="0.22">50 μM</text>
<text transform="translate(384.3,86.25) rotate(-90)" font-size="6.65" text-anchor="middle" fill="#222" stroke="#222" stroke-width="0.12">Motility Index (% of control)</text>
<text transform="translate(515.9,23.5) scale(1,1.1)" font-size="7.8" text-anchor="middle" fill="#111" stroke="#111" stroke-width="0.12">SB216763</text>
<text transform="translate(518,32.2)" font-size="6.6" text-anchor="middle" fill="#111" stroke="#111" stroke-width="0.08">GSK3 inhibitor</text>
<g fill="none" stroke-width="0.7" opacity="0.9"><path d="M489.5 94.3V103.9" stroke="#F0707A"/><path d="M489.5 94.3V103.9" stroke="#5597F5"/><path d="M507.5 75.3V83.5M506.2 75.3H508.8M506.2 83.5H508.8" stroke="#ADA02A"/><path d="M507.5 99.7V107.9M506.2 99.7H508.8M506.2 107.9H508.8" stroke="#5597F5"/><path d="M507.5 109.7V119.6M506.2 109.7H508.8M506.2 119.6H508.8" stroke="#F0707A"/><path d="M525.6 85.4V92M524.3 85.4H526.9M524.3 92H526.9" stroke="#ADA02A"/><path d="M525.6 71.1V77.8M524.3 71.1H526.9M524.3 77.8H526.9" stroke="#E763EE"/><path d="M525.6 83.5V92M524.3 83.5H526.9M524.3 92H526.9" stroke="#5597F5"/><path d="M525.6 102.4V111.5M524.3 102.4H526.9M524.3 111.5H526.9" stroke="#F0707A"/><path d="M525.6 116.9V123.2M524.3 116.9H526.9M524.3 123.2H526.9" stroke="#12BCD8"/><path d="M543.6 39.8V51.2M542.3 39.8H544.9M542.3 51.2H544.9" stroke="#ADA02A"/><path d="M543.6 71.1V87.3M542.3 71.1H544.9M542.3 87.3H544.9" stroke="#E763EE"/><path d="M543.6 90.7V101.5M542.3 90.7H544.9M542.3 101.5H544.9" stroke="#5597F5"/><path d="M543.6 115.1V125M542.3 115.1H544.9M542.3 125H544.9" stroke="#F0707A"/><path d="M543.6 131.3V138.6M542.3 131.3H544.9M542.3 138.6H544.9" stroke="#12BCD8"/></g>
<polyline points="489.5,98.8 507.5,101.5 525.6,74 543.6,80.2" fill="none" stroke="#E763EE" stroke-width="1.85" stroke-linejoin="round"/>
<polyline points="489.5,98.8 507.5,103.9 525.6,88.8 543.6,96.1" fill="none" stroke="#5597F5" stroke-width="1.85" stroke-linejoin="round"/>
<polyline points="489.5,98.8 507.5,113.3 525.6,120.1 543.6,135.3" fill="none" stroke="#12BCD8" stroke-width="1.85" stroke-linejoin="round"/>
<polyline points="489.5,98.8 507.5,79.7 525.6,89.2 543.6,46.8" fill="none" stroke="#ADA02A" stroke-width="1.85" stroke-linejoin="round"/>
<polyline points="489.5,98.8 507.5,114.2 525.6,107 543.6,120.1" fill="none" stroke="#F0707A" stroke-width="1.85" stroke-linejoin="round"/>
<polyline points="489.5,98.8 507.5,98.8 525.6,100.1 543.6,101" fill="none" stroke="#1F8F3A" stroke-width="1.85" stroke-linejoin="round"/>
<g><rect x="505.9" y="71.8" width="1.3" height="1.4" fill="#ADA02A"/><rect x="507.9" y="71.8" width="1.3" height="1.4" fill="#ADA02A"/><rect x="539.9" y="36.8" width="1.3" height="1.4" fill="#ADA02A"/><rect x="541.9" y="36.8" width="1.3" height="1.4" fill="#ADA02A"/><rect x="543.9" y="36.8" width="1.3" height="1.4" fill="#ADA02A"/><rect x="545.9" y="36.8" width="1.3" height="1.4" fill="#ADA02A"/><rect x="522.9" y="65.8" width="1.3" height="1.4" fill="#E763EE"/><rect x="524.9" y="65.8" width="1.3" height="1.4" fill="#E763EE"/><rect x="526.9" y="65.8" width="1.3" height="1.4" fill="#E763EE"/><rect x="541.9" y="110.8" width="1.3" height="1.4" fill="#F0707A"/><rect x="543.9" y="110.8" width="1.3" height="1.4" fill="#F0707A"/><rect x="501.9" y="116.8" width="1.3" height="1.4" fill="#12BCD8"/><rect x="503.9" y="116.8" width="1.3" height="1.4" fill="#12BCD8"/><rect x="505.9" y="116.8" width="1.3" height="1.4" fill="#12BCD8"/><rect x="521.9" y="113.8" width="1.3" height="1.4" fill="#12BCD8"/><rect x="523.9" y="113.8" width="1.3" height="1.4" fill="#12BCD8"/><rect x="525.9" y="113.8" width="1.3" height="1.4" fill="#12BCD8"/><rect x="527.9" y="113.8" width="1.3" height="1.4" fill="#12BCD8"/><rect x="539.9" y="128.8" width="1.3" height="1.4" fill="#12BCD8"/><rect x="541.9" y="128.8" width="1.3" height="1.4" fill="#12BCD8"/><rect x="543.9" y="128.8" width="1.3" height="1.4" fill="#12BCD8"/><rect x="545.9" y="128.8" width="1.3" height="1.4" fill="#12BCD8"/></g>
<path d="M487 35.5V143.5H547" fill="none" stroke="#444" stroke-width="1.1"/>
<path d="M484.9 65H487" stroke="#444" stroke-width="0.9"/>
<text transform="translate(485.2,68.2) scale(1,1.2)" font-size="5.8" text-anchor="end" fill="#3a3a3a" stroke="#3a3a3a" stroke-width="0.15">120</text>
<path d="M484.9 98.8H487" stroke="#444" stroke-width="0.9"/>
<text transform="translate(485.2,102) scale(1,1.2)" font-size="5.8" text-anchor="end" fill="#3a3a3a" stroke="#3a3a3a" stroke-width="0.15">100</text>
<path d="M484.9 132.8H487" stroke="#444" stroke-width="0.9"/>
<text transform="translate(485.2,136) scale(1,1.2)" font-size="5.8" text-anchor="end" fill="#3a3a3a" stroke="#3a3a3a" stroke-width="0.15">80</text>
<path d="M489.5 143.5V145.8" stroke="#444" stroke-width="0.9"/>
<text transform="translate(492.8,149.4) rotate(-48)" font-size="6.0" text-anchor="end" fill="#222" stroke="#222" stroke-width="0.22">DMSO</text>
<path d="M507.5 143.5V145.8" stroke="#444" stroke-width="0.9"/>
<text transform="translate(510.8,149.4) rotate(-48)" font-size="6.0" text-anchor="end" fill="#222" stroke="#222" stroke-width="0.22">1 μM</text>
<path d="M525.6 143.5V145.8" stroke="#444" stroke-width="0.9"/>
<text transform="translate(528.9,149.4) rotate(-48)" font-size="6.0" text-anchor="end" fill="#222" stroke="#222" stroke-width="0.22">10 μM</text>
<path d="M543.6 143.5V145.8" stroke="#444" stroke-width="0.9"/>
<text transform="translate(546.9,149.4) rotate(-48)" font-size="6.0" text-anchor="end" fill="#222" stroke="#222" stroke-width="0.22">100 μM</text>
<text transform="translate(473,88.2) rotate(-90)" font-size="6.65" text-anchor="middle" fill="#222" stroke="#222" stroke-width="0.12">Motility Index (% of control)</text>
<text transform="translate(65.4,177.3) scale(1,1.1)" font-size="7.8" text-anchor="middle" fill="#111" stroke="#111" stroke-width="0.12">SB590885</text>
<text transform="translate(66,184.5)" font-size="6.6" text-anchor="middle" fill="#111" stroke="#111" stroke-width="0.08">B-Raf inhibitor</text>
<g fill="none" stroke-width="0.7" opacity="0.9"><path d="M36.8 262.6V283.5" stroke="#F0707A"/><path d="M36.8 257.8V277.8" stroke="#5597F5"/><path d="M54.8 234.8V245M53.5 234.8H56.1M53.5 245H56.1" stroke="#ADA02A"/><path d="M54.8 250.2V270.2M53.5 250.2H56.1M53.5 270.2H56.1" stroke="#E763EE"/><path d="M54.8 259.7V282M53.5 259.7H56.1M53.5 282H56.1" stroke="#5597F5"/><path d="M54.8 274.9V288.2M53.5 274.9H56.1M53.5 288.2H56.1" stroke="#F0707A"/><path d="M72.9 233.5V243M71.6 233.5H74.2M71.6 243H74.2" stroke="#ADA02A"/><path d="M72.9 243.6V259.7M71.6 243.6H74.2M71.6 259.7H74.2" stroke="#5597F5"/><path d="M72.9 257.8V270.2M71.6 257.8H74.2M71.6 270.2H74.2" stroke="#F0707A"/><path d="M90.5 192.6V232.5M89.2 192.6H91.8M89.2 232.5H91.8" stroke="#5597F5"/><path d="M90.5 216.4V232.5M89.2 216.4H91.8M89.2 232.5H91.8" stroke="#F0707A"/><path d="M90.5 242.6V254M89.2 242.6H91.8M89.2 254H91.8" stroke="#12BCD8"/><path d="M90.5 270.2V277.8M89.2 270.2H91.8M89.2 277.8H91.8" stroke="#ADA02A"/></g>
<polyline points="36.8,268.3 54.8,259.7 72.9,256.9 90.5,202.1" fill="none" stroke="#E763EE" stroke-width="1.85" stroke-linejoin="round"/>
<polyline points="36.8,268.3 54.8,271.5 72.9,254 90.5,203.1" fill="none" stroke="#5597F5" stroke-width="1.85" stroke-linejoin="round"/>
<polyline points="36.8,268.3 54.8,275.9 72.9,275.9 90.5,249.3" fill="none" stroke="#12BCD8" stroke-width="1.85" stroke-linejoin="round"/>
<polyline points="36.8,268.3 54.8,239.8 72.9,238.2 90.5,273" fill="none" stroke="#ADA02A" stroke-width="1.85" stroke-linejoin="round"/>
<polyline points="36.8,268.3 54.8,280.2 72.9,263.5 90.5,224.9" fill="none" stroke="#F0707A" stroke-width="1.85" stroke-linejoin="round"/>
<polyline points="36.8,268.3 54.8,268.3 72.9,273 90.5,276.4" fill="none" stroke="#1F8F3A" stroke-width="1.85" stroke-linejoin="round"/>
<g><rect x="52.9" y="230.8" width="1.3" height="1.4" fill="#ADA02A"/><rect x="54.9" y="230.8" width="1.3" height="1.4" fill="#ADA02A"/><rect x="69.9" y="228.8" width="1.3" height="1.4" fill="#ADA02A"/><rect x="71.9" y="228.8" width="1.3" height="1.4" fill="#ADA02A"/><rect x="73.9" y="228.8" width="1.3" height="1.4" fill="#ADA02A"/><rect x="87.9" y="188.8" width="1.3" height="1.4" fill="#5597F5"/><rect x="89.9" y="188.8" width="1.3" height="1.4" fill="#5597F5"/><rect x="91.9" y="188.8" width="1.3" height="1.4" fill="#5597F5"/><rect x="86.9" y="186.8" width="1.3" height="1.4" fill="#E763EE"/><rect x="88.9" y="186.8" width="1.3" height="1.4" fill="#E763EE"/><rect x="90.9" y="186.8" width="1.3" height="1.4" fill="#E763EE"/><rect x="92.9" y="186.8" width="1.3" height="1.4" fill="#E763EE"/><rect x="88.9" y="233.8" width="1.3" height="1.4" fill="#F0707A"/><rect x="90.9" y="233.8" width="1.3" height="1.4" fill="#F0707A"/><rect x="92.9" y="233.8" width="1.3" height="1.4" fill="#F0707A"/><rect x="94.9" y="233.8" width="1.3" height="1.4" fill="#F0707A"/><rect x="88.9" y="239.8" width="1.3" height="1.4" fill="#12BCD8"/><rect x="90.9" y="239.8" width="1.3" height="1.4" fill="#12BCD8"/><rect x="65.9" y="273.8" width="1.3" height="1.4" fill="#1F8F3A"/><rect x="67.9" y="273.8" width="1.3" height="1.4" fill="#1F8F3A"/><rect x="69.9" y="273.8" width="1.3" height="1.4" fill="#1F8F3A"/><rect x="86.9" y="280.8" width="1.3" height="1.4" fill="#1F8F3A"/><rect x="88.9" y="280.8" width="1.3" height="1.4" fill="#1F8F3A"/><rect x="90.9" y="280.8" width="1.3" height="1.4" fill="#1F8F3A"/><rect x="92.9" y="280.8" width="1.3" height="1.4" fill="#1F8F3A"/></g>
<path d="M34.1 187V293.5H93.5" fill="none" stroke="#444" stroke-width="1.1"/>
<path d="M32 207.9H34.1" stroke="#444" stroke-width="0.9"/>
<text transform="translate(32.3,211.1) scale(1,1.2)" font-size="5.8" text-anchor="end" fill="#3a3a3a" stroke="#3a3a3a" stroke-width="0.15">130</text>
<path d="M32 228.2H34.1" stroke="#444" stroke-width="0.9"/>
<text transform="translate(32.3,231.4) scale(1,1.2)" font-size="5.8" text-anchor="end" fill="#3a3a3a" stroke="#3a3a3a" stroke-width="0.15">120</text>
<path d="M32 248.3H34.1" stroke="#444" stroke-width="0.9"/>
<text transform="translate(32.3,251.5) scale(1,1.2)" font-size="5.8" text-anchor="end" fill="#3a3a3a" stroke="#3a3a3a" stroke-width="0.15">110</text>
<path d="M32 268.3H34.1" stroke="#444" stroke-width="0.9"/>
<text transform="translate(32.3,271.5) scale(1,1.2)" font-size="5.8" text-anchor="end" fill="#3a3a3a" stroke="#3a3a3a" stroke-width="0.15">100</text>
<path d="M32 288.5H34.1" stroke="#444" stroke-width="0.9"/>
<text transform="translate(32.3,291.7) scale(1,1.2)" font-size="5.8" text-anchor="end" fill="#3a3a3a" stroke="#3a3a3a" stroke-width="0.15">90</text>
<path d="M36.8 293.5V295.8" stroke="#444" stroke-width="0.9"/>
<text transform="translate(40.1,299.4) rotate(-48)" font-size="6.0" text-anchor="end" fill="#222" stroke="#222" stroke-width="0.22">DMSO</text>
<path d="M54.8 293.5V295.8" stroke="#444" stroke-width="0.9"/>
<text transform="translate(58.1,299.4) rotate(-48)" font-size="6.0" text-anchor="end" fill="#222" stroke="#222" stroke-width="0.22">10 nM</text>
<path d="M72.9 293.5V295.8" stroke="#444" stroke-width="0.9"/>
<text transform="translate(76.2,299.4) rotate(-48)" font-size="6.0" text-anchor="end" fill="#222" stroke="#222" stroke-width="0.22">100 nM</text>
<path d="M90.5 293.5V295.8" stroke="#444" stroke-width="0.9"/>
<text transform="translate(93.8,299.4) rotate(-48)" font-size="6.0" text-anchor="end" fill="#222" stroke="#222" stroke-width="0.22">1000 nM</text>
<text transform="translate(20.5,238.75) rotate(-90)" font-size="6.65" text-anchor="middle" fill="#222" stroke="#222" stroke-width="0.12">Motility Index (% of control)</text>
<text transform="translate(158.9,176.6) scale(1,1.1)" font-size="7.8" text-anchor="middle" fill="#111" stroke="#111" stroke-width="0.12">FR236924</text>
<text transform="translate(160.4,184)" font-size="6.6" text-anchor="middle" fill="#111" stroke="#111" stroke-width="0.08">PKC activator (PRKC)</text>
<g fill="none" stroke-width="0.7" opacity="0.9"><path d="M127.3 237.3V250.2" stroke="#F0707A"/><path d="M127.3 237.3V250.2" stroke="#5597F5"/><path d="M145.2 221.1V228.7M143.9 221.1H146.5M143.9 228.7H146.5" stroke="#ADA02A"/><path d="M145.2 240.7V256.3M143.9 240.7H146.5M143.9 256.3H146.5" stroke="#5597F5"/><path d="M145.2 265.4V274.5M143.9 265.4H146.5M143.9 274.5H146.5" stroke="#F0707A"/><path d="M163.1 216.9V229.7M161.8 216.9H164.4M161.8 229.7H164.4" stroke="#E763EE"/><path d="M163.1 251.7V257.8M161.8 251.7H164.4M161.8 257.8H164.4" stroke="#F0707A"/><path d="M163.1 236V245M161.8 236H164.4M161.8 245H164.4" stroke="#5597F5"/><path d="M181.3 190.7V197.9M180 190.7H182.6M180 197.9H182.6" stroke="#ADA02A"/><path d="M181.3 276.8V288.2M180 276.8H182.6M180 288.2H182.6" stroke="#5597F5"/><path d="M181.3 259V267M180 259H182.6M180 267H182.6" stroke="#12BCD8"/><path d="M181.3 263V271M180 263H182.6M180 271H182.6" stroke="#F0707A"/></g>
<polyline points="127.3,243.6 145.2,236.7 163.1,223 181.3,268.8" fill="none" stroke="#E763EE" stroke-width="1.85" stroke-linejoin="round"/>
<polyline points="127.3,243.6 145.2,249.3 163.1,240.7 181.3,282.1" fill="none" stroke="#5597F5" stroke-width="1.85" stroke-linejoin="round"/>
<polyline points="127.3,243.6 145.2,242.6 163.1,239.8 181.3,263.1" fill="none" stroke="#12BCD8" stroke-width="1.85" stroke-linejoin="round"/>
<polyline points="127.3,243.6 145.2,224.5 163.1,235.9 181.3,195.5" fill="none" stroke="#ADA02A" stroke-width="1.85" stroke-linejoin="round"/>
<polyline points="127.3,243.6 145.2,269.2 163.1,255 181.3,266.9" fill="none" stroke="#F0707A" stroke-width="1.85" stroke-linejoin="round"/>
<polyline points="127.3,243.6 145.2,236.2 163.1,239.2 181.3,242.6" fill="none" stroke="#1F8F3A" stroke-width="1.85" stroke-linejoin="round"/>
<g><rect x="143.9" y="217.8" width="1.3" height="1.4" fill="#ADA02A"/><rect x="145.9" y="217.8" width="1.3" height="1.4" fill="#ADA02A"/><rect x="176.9" y="187.8" width="1.3" height="1.4" fill="#ADA02A"/><rect x="178.9" y="187.8" width="1.3" height="1.4" fill="#ADA02A"/><rect x="180.9" y="187.8" width="1.3" height="1.4" fill="#ADA02A"/><rect x="182.9" y="187.8" width="1.3" height="1.4" fill="#ADA02A"/><rect x="160.9" y="213.8" width="1.3" height="1.4" fill="#E763EE"/><rect x="162.9" y="213.8" width="1.3" height="1.4" fill="#E763EE"/><rect x="141.9" y="231.8" width="1.3" height="1.4" fill="#1F8F3A"/><rect x="143.9" y="231.8" width="1.3" height="1.4" fill="#1F8F3A"/><rect x="145.9" y="231.8" width="1.3" height="1.4" fill="#1F8F3A"/><rect x="147.9" y="231.8" width="1.3" height="1.4" fill="#1F8F3A"/><rect x="158.9" y="242.8" width="1.3" height="1.4" fill="#1F8F3A"/><rect x="160.9" y="242.8" width="1.3" height="1.4" fill="#1F8F3A"/><rect x="177.9" y="289.8" width="1.3" height="1.4" fill="#5597F5"/><rect x="179.9" y="289.8" width="1.3" height="1.4" fill="#5597F5"/><rect x="181.9" y="289.8" width="1.3" height="1.4" fill="#5597F5"/><rect x="183.9" y="289.8" width="1.3" height="1.4" fill="#5597F5"/><rect x="142.9" y="262.8" width="1.3" height="1.4" fill="#F0707A"/><rect x="144.9" y="262.8" width="1.3" height="1.4" fill="#F0707A"/><rect x="146.9" y="262.8" width="1.3" height="1.4" fill="#F0707A"/><rect x="179.9" y="269.8" width="1.3" height="1.4" fill="#F0707A"/><rect x="181.9" y="269.8" width="1.3" height="1.4" fill="#F0707A"/><rect x="183.9" y="269.8" width="1.3" height="1.4" fill="#F0707A"/><rect x="185.9" y="269.8" width="1.3" height="1.4" fill="#F0707A"/><rect x="179.9" y="259.8" width="1.3" height="1.4" fill="#12BCD8"/><rect x="181.9" y="259.8" width="1.3" height="1.4" fill="#12BCD8"/><rect x="183.9" y="259.8" width="1.3" height="1.4" fill="#12BCD8"/><rect x="185.9" y="259.8" width="1.3" height="1.4" fill="#12BCD8"/><rect x="179.9" y="273.8" width="1.3" height="1.4" fill="#E763EE"/><rect x="181.9" y="273.8" width="1.3" height="1.4" fill="#E763EE"/><rect x="183.9" y="273.8" width="1.3" height="1.4" fill="#E763EE"/></g>
<path d="M124.4 186.2V293.5H184" fill="none" stroke="#444" stroke-width="1.1"/>
<path d="M122.3 213.9H124.4" stroke="#444" stroke-width="0.9"/>
<text transform="translate(122.6,217.1) scale(1,1.2)" font-size="5.8" text-anchor="end" fill="#3a3a3a" stroke="#3a3a3a" stroke-width="0.15">120</text>
<path d="M122.3 243.6H124.4" stroke="#444" stroke-width="0.9"/>
<text transform="translate(122.6,246.8) scale(1,1.2)" font-size="5.8" text-anchor="end" fill="#3a3a3a" stroke="#3a3a3a" stroke-width="0.15">100</text>
<path d="M122.3 273.4H124.4" stroke="#444" stroke-width="0.9"/>
<text transform="translate(122.6,276.6) scale(1,1.2)" font-size="5.8" text-anchor="end" fill="#3a3a3a" stroke="#3a3a3a" stroke-width="0.15">80</text>
<path d="M127.3 293.5V295.8" stroke="#444" stroke-width="0.9"/>
<text transform="translate(130.6,299.4) rotate(-48)" font-size="6.0" text-anchor="end" fill="#222" stroke="#222" stroke-width="0.22">DMSO</text>
<path d="M145.2 293.5V295.8" stroke="#444" stroke-width="0.9"/>
<text transform="translate(148.5,299.4) rotate(-48)" font-size="6.0" text-anchor="end" fill="#222" stroke="#222" stroke-width="0.22">0.1 μM</text>
<path d="M163.1 293.5V295.8" stroke="#444" stroke-width="0.9"/>
<text transform="translate(166.4,299.4) rotate(-48)" font-size="6.0" text-anchor="end" fill="#222" stroke="#222" stroke-width="0.22">1.0 μM</text>
<path d="M181.3 293.5V295.8" stroke="#444" stroke-width="0.9"/>
<text transform="translate(184.6,299.4) rotate(-48)" font-size="6.0" text-anchor="end" fill="#222" stroke="#222" stroke-width="0.22">10.0 μM</text>
<text transform="translate(108,241.7) rotate(-90)" font-size="6.65" text-anchor="middle" fill="#222" stroke="#222" stroke-width="0.12">Motility Index (% of control)</text>
<text transform="translate(247.1,176) scale(1,1.1)" font-size="7.8" text-anchor="middle" fill="#111" stroke="#111" stroke-width="0.12">PMA</text>
<text transform="translate(257.7,182.5)" font-size="6.6" text-anchor="middle" fill="#111" stroke="#111" stroke-width="0.08">PKC activator (PRKC)</text>
<g fill="none" stroke-width="0.7" opacity="0.9"><path d="M221.7 236.7V265" stroke="#F0707A"/><path d="M221.7 236.7V262" stroke="#5597F5"/><path d="M274 189.1V214.6M271.7 189.1H276.3M271.7 214.6H276.3" stroke="#F0707A"/><path d="M274 208.1V222.1M271.7 208.1H276.3M271.7 222.1H276.3" stroke="#ADA02A"/><path d="M274 228.4V246M271.7 228.4H276.3M271.7 246H276.3" stroke="#12BCD8"/><path d="M274 235V263.1M271.7 235H276.3M271.7 263.1H276.3" stroke="#E763EE"/><path d="M274 257.8V288.2M271.7 257.8H276.3M271.7 288.2H276.3" stroke="#5597F5"/></g>
<polyline points="221.7,250.4 274,249.2" fill="none" stroke="#E763EE" stroke-width="1.85" stroke-linejoin="round"/>
<polyline points="221.7,250.4 274,273" fill="none" stroke="#5597F5" stroke-width="1.85" stroke-linejoin="round"/>
<polyline points="221.7,250.4 274,237.3" fill="none" stroke="#12BCD8" stroke-width="1.85" stroke-linejoin="round"/>
<polyline points="221.7,250.4 274,215.1" fill="none" stroke="#ADA02A" stroke-width="1.85" stroke-linejoin="round"/>
<polyline points="221.7,250.4 274,202.4" fill="none" stroke="#F0707A" stroke-width="1.85" stroke-linejoin="round"/>
<polyline points="221.7,250.4 274,251.7" fill="none" stroke="#1F8F3A" stroke-width="1.85" stroke-linejoin="round"/>
<g><rect x="271.9" y="185.8" width="1.3" height="1.4" fill="#F0707A"/><rect x="273.9" y="185.8" width="1.3" height="1.4" fill="#F0707A"/></g>
<path d="M219.2 184.4V293.5H279.3" fill="none" stroke="#444" stroke-width="1.1"/>
<path d="M217.1 212.6H219.2" stroke="#444" stroke-width="0.9"/>
<text transform="translate(217.4,215.8) scale(1,1.2)" font-size="5.8" text-anchor="end" fill="#3a3a3a" stroke="#3a3a3a" stroke-width="0.15">110</text>
<path d="M217.1 250.4H219.2" stroke="#444" stroke-width="0.9"/>
<text transform="translate(217.4,253.6) scale(1,1.2)" font-size="5.8" text-anchor="end" fill="#3a3a3a" stroke="#3a3a3a" stroke-width="0.15">100</text>
<path d="M217.1 288.4H219.2" stroke="#444" stroke-width="0.9"/>
<text transform="translate(217.4,291.6) scale(1,1.2)" font-size="5.8" text-anchor="end" fill="#3a3a3a" stroke="#3a3a3a" stroke-width="0.15">90</text>
<path d="M221.7 293.5V295.8" stroke="#444" stroke-width="0.9"/>
<text transform="translate(225,299.4) rotate(-48)" font-size="6.0" text-anchor="end" fill="#222" stroke="#222" stroke-width="0.22">DMSO</text>
<path d="M274 293.5V295.8" stroke="#444" stroke-width="0.9"/>
<text transform="translate(277.3,299.4) rotate(-48)" font-size="6.0" text-anchor="end" fill="#222" stroke="#222" stroke-width="0.22">10 nM</text>
<text transform="translate(204.9,239) rotate(-90)" font-size="6.65" text-anchor="middle" fill="#222" stroke="#222" stroke-width="0.12">Motility Index (% of control)</text>
<text transform="translate(343.8,176.6) scale(1,1.1)" font-size="7.8" text-anchor="middle" fill="#111" stroke="#111" stroke-width="0.12">BIM</text>
<text transform="translate(347,183.3)" font-size="6.6" text-anchor="middle" fill="#111" stroke="#111" stroke-width="0.08">PKC inhibitor (PRKC)</text>
<g fill="none" stroke-width="0.7" opacity="0.9"><path d="M318.8 236V254" stroke="#F0707A"/><path d="M336.8 222V234.4M335.5 222H338.1M335.5 234.4H338.1" stroke="#ADA02A"/><path d="M336.8 235V251.2M335.5 235H338.1M335.5 251.2H338.1" stroke="#F0707A"/><path d="M336.8 251.2V259.7M335.5 251.2H338.1M335.5 259.7H338.1" stroke="#12BCD8"/><path d="M336.8 261.6V276.8M335.5 261.6H338.1M335.5 276.8H338.1" stroke="#5597F5"/><path d="M354.5 209.3V224M353.2 209.3H355.8M353.2 224H355.8" stroke="#ADA02A"/><path d="M354.5 236V250.2M353.2 236H355.8M353.2 250.2H355.8" stroke="#F0707A"/><path d="M354.5 256.9V270.2M353.2 256.9H355.8M353.2 270.2H355.8" stroke="#5597F5"/><path d="M372.5 221.1V232.5M371.2 221.1H373.8M371.2 232.5H373.8" stroke="#ADA02A"/><path d="M372.5 187.9V206.9M371.2 187.9H373.8M371.2 206.9H373.8" stroke="#F0707A"/><path d="M372.5 236V246.4M371.2 236H373.8M371.2 246.4H373.8" stroke="#12BCD8"/><path d="M372.5 263.5V280.6M371.2 263.5H373.8M371.2 280.6H373.8" stroke="#E763EE"/><path d="M372.5 270.2V290.1M371.2 270.2H373.8M371.2 290.1H373.8" stroke="#5597F5"/></g>
<polyline points="318.8,244.1 336.8,263.1 354.5,263.9 372.5,272.6" fill="none" stroke="#E763EE" stroke-width="1.85" stroke-linejoin="round"/>
<polyline points="318.8,244.1 336.8,269.2 354.5,262.6 372.5,279.1" fill="none" stroke="#5597F5" stroke-width="1.85" stroke-linejoin="round"/>
<polyline points="318.8,244.1 336.8,255.5 354.5,255.5 372.5,241.7" fill="none" stroke="#12BCD8" stroke-width="1.85" stroke-linejoin="round"/>
<polyline points="318.8,244.1 336.8,228.3 354.5,217.7 372.5,227.8" fill="none" stroke="#ADA02A" stroke-width="1.85" stroke-linejoin="round"/>
<polyline points="318.8,244.1 336.8,243.6 354.5,243.6 372.5,199.3" fill="none" stroke="#F0707A" stroke-width="1.85" stroke-linejoin="round"/>
<polyline points="318.8,244.1 336.8,246.4 354.5,245.5 372.5,251.2" fill="none" stroke="#1F8F3A" stroke-width="1.85" stroke-linejoin="round"/>
<g><rect x="370.9" y="247.8" width="1.3" height="1.4" fill="#1F8F3A"/><rect x="372.9" y="247.8" width="1.3" height="1.4" fill="#1F8F3A"/><rect x="374.9" y="247.8" width="1.3" height="1.4" fill="#1F8F3A"/><rect x="370.9" y="262.8" width="1.3" height="1.4" fill="#E763EE"/><rect x="372.9" y="262.8" width="1.3" height="1.4" fill="#E763EE"/><rect x="352.9" y="259.8" width="1.3" height="1.4" fill="#E763EE"/><rect x="371.9" y="188.8" width="1.3" height="1.4" fill="#F0707A"/></g>
<path d="M316.8 186.2V293.5H375.5" fill="none" stroke="#444" stroke-width="1.1"/>
<path d="M314.7 189.8H316.8" stroke="#444" stroke-width="0.9"/>
<text transform="translate(315,193) scale(1,1.2)" font-size="5.8" text-anchor="end" fill="#3a3a3a" stroke="#3a3a3a" stroke-width="0.15">130</text>
<path d="M314.7 208.2H316.8" stroke="#444" stroke-width="0.9"/>
<text transform="translate(315,211.4) scale(1,1.2)" font-size="5.8" text-anchor="end" fill="#3a3a3a" stroke="#3a3a3a" stroke-width="0.15">120</text>
<path d="M314.7 226.2H316.8" stroke="#444" stroke-width="0.9"/>
<text transform="translate(315,229.4) scale(1,1.2)" font-size="5.8" text-anchor="end" fill="#3a3a3a" stroke="#3a3a3a" stroke-width="0.15">110</text>
<path d="M314.7 244.4H316.8" stroke="#444" stroke-width="0.9"/>
<text transform="translate(315,247.6) scale(1,1.2)" font-size="5.8" text-anchor="end" fill="#3a3a3a" stroke="#3a3a3a" stroke-width="0.15">100</text>
<path d="M314.7 263.1H316.8" stroke="#444" stroke-width="0.9"/>
<text transform="translate(315,266.3) scale(1,1.2)" font-size="5.8" text-anchor="end" fill="#3a3a3a" stroke="#3a3a3a" stroke-width="0.15">90</text>
<path d="M314.7 281.2H316.8" stroke="#444" stroke-width="0.9"/>
<text transform="translate(315,284.4) scale(1,1.2)" font-size="5.8" text-anchor="end" fill="#3a3a3a" stroke="#3a3a3a" stroke-width="0.15">80</text>
<path d="M318.8 293.5V295.8" stroke="#444" stroke-width="0.9"/>
<text transform="translate(322.1,299.4) rotate(-48)" font-size="6.0" text-anchor="end" fill="#222" stroke="#222" stroke-width="0.22">DMSO</text>
<path d="M336.8 293.5V295.8" stroke="#444" stroke-width="0.9"/>
<text transform="translate(340.1,299.4) rotate(-48)" font-size="6.0" text-anchor="end" fill="#222" stroke="#222" stroke-width="0.22">0.1 μM</text>
<path d="M354.5 293.5V295.8" stroke="#444" stroke-width="0.9"/>
<text transform="translate(357.8,299.4) rotate(-48)" font-size="6.0" text-anchor="end" fill="#222" stroke="#222" stroke-width="0.22">1.0 μM</text>
<path d="M372.5 293.5V295.8" stroke="#444" stroke-width="0.9"/>
<text transform="translate(375.8,299.4) rotate(-48)" font-size="6.0" text-anchor="end" fill="#222" stroke="#222" stroke-width="0.22">10.0 μM</text>
<text transform="translate(297.6,239) rotate(-90)" font-size="6.65" text-anchor="middle" fill="#222" stroke="#222" stroke-width="0.12">Motility Index (% of control)</text>
<text transform="translate(438.2,176) scale(1,1.1)" font-size="7.8" text-anchor="middle" fill="#111" stroke="#111" stroke-width="0.12">Bryostatin</text>
<text transform="translate(442.2,182.8)" font-size="6.6" text-anchor="middle" fill="#111" stroke="#111" stroke-width="0.08">PKC activator (PRKC)</text>
<g fill="none" stroke-width="0.7" opacity="0.9"><path d="M410.8 235V259.7" stroke="#F0707A"/><path d="M410.8 233V250" stroke="#5597F5"/><path d="M428.8 204V221.1M427.5 204H430.1M427.5 221.1H430.1" stroke="#ADA02A"/><path d="M428.8 212.6V233.5M427.5 212.6H430.1M427.5 233.5H430.1" stroke="#5597F5"/><path d="M428.8 237V254M427.5 237H430.1M427.5 254H430.1" stroke="#F0707A"/><path d="M428.8 279.7V288.2M427.5 279.7H430.1M427.5 288.2H430.1" stroke="#12BCD8"/><path d="M446.9 190.7V210.7M445.6 190.7H448.2M445.6 210.7H448.2" stroke="#ADA02A"/><path d="M446.9 229.7V245M445.6 229.7H448.2M445.6 245H448.2" stroke="#5597F5"/><path d="M446.9 245.5V264.5M445.6 245.5H448.2M445.6 264.5H448.2" stroke="#F0707A"/><path d="M446.9 272V283.5M445.6 272H448.2M445.6 283.5H448.2" stroke="#12BCD8"/><path d="M464.5 208.8V236.3M463.2 208.8H465.8M463.2 236.3H465.8" stroke="#5597F5"/><path d="M464.5 211.6V240M463.2 211.6H465.8M463.2 240H465.8" stroke="#F0707A"/><path d="M464.5 235V245M463.2 235H465.8M463.2 245H465.8" stroke="#E763EE"/><path d="M464.5 263.5V278.7M463.2 263.5H465.8M463.2 278.7H465.8" stroke="#12BCD8"/></g>
<polyline points="410.8,247.4 428.8,222.1 446.9,252.1 464.5,240.3" fill="none" stroke="#E763EE" stroke-width="1.85" stroke-linejoin="round"/>
<polyline points="410.8,247.4 428.8,222.1 446.9,242 464.5,223" fill="none" stroke="#5597F5" stroke-width="1.85" stroke-linejoin="round"/>
<polyline points="410.8,247.4 428.8,283.5 446.9,277.2 464.5,271.1" fill="none" stroke="#12BCD8" stroke-width="1.85" stroke-linejoin="round"/>
<polyline points="410.8,247.4 428.8,212.6 446.9,201.2 464.5,223" fill="none" stroke="#ADA02A" stroke-width="1.85" stroke-linejoin="round"/>
<polyline points="410.8,247.4 428.8,243.6 446.9,253.1 464.5,223" fill="none" stroke="#F0707A" stroke-width="1.85" stroke-linejoin="round"/>
<polyline points="410.8,247.4 428.8,250.2 446.9,248.7 464.5,251.2" fill="none" stroke="#1F8F3A" stroke-width="1.85" stroke-linejoin="round"/>
<g><rect x="425.9" y="200.8" width="1.3" height="1.4" fill="#ADA02A"/><rect x="427.9" y="200.8" width="1.3" height="1.4" fill="#ADA02A"/><rect x="429.9" y="200.8" width="1.3" height="1.4" fill="#ADA02A"/><rect x="443.9" y="188.8" width="1.3" height="1.4" fill="#ADA02A"/><rect x="445.9" y="188.8" width="1.3" height="1.4" fill="#ADA02A"/><rect x="447.9" y="188.8" width="1.3" height="1.4" fill="#ADA02A"/><rect x="461.9" y="215.8" width="1.3" height="1.4" fill="#ADA02A"/><rect x="463.9" y="215.8" width="1.3" height="1.4" fill="#ADA02A"/><rect x="425.9" y="208.8" width="1.3" height="1.4" fill="#E763EE"/><rect x="425.9" y="246.8" width="1.3" height="1.4" fill="#1F8F3A"/><rect x="427.9" y="246.8" width="1.3" height="1.4" fill="#1F8F3A"/><rect x="457.9" y="246.8" width="1.3" height="1.4" fill="#1F8F3A"/><rect x="459.9" y="246.8" width="1.3" height="1.4" fill="#1F8F3A"/><rect x="461.9" y="246.8" width="1.3" height="1.4" fill="#1F8F3A"/><rect x="426.9" y="275.8" width="1.3" height="1.4" fill="#12BCD8"/><rect x="428.9" y="275.8" width="1.3" height="1.4" fill="#12BCD8"/><rect x="430.9" y="275.8" width="1.3" height="1.4" fill="#12BCD8"/><rect x="432.9" y="275.8" width="1.3" height="1.4" fill="#12BCD8"/><rect x="443.9" y="269.8" width="1.3" height="1.4" fill="#12BCD8"/><rect x="445.9" y="269.8" width="1.3" height="1.4" fill="#12BCD8"/><rect x="447.9" y="269.8" width="1.3" height="1.4" fill="#12BCD8"/><rect x="463.9" y="261.8" width="1.3" height="1.4" fill="#12BCD8"/><rect x="465.9" y="261.8" width="1.3" height="1.4" fill="#12BCD8"/></g>
<path d="M408.6 186.6V293.5H467.7" fill="none" stroke="#444" stroke-width="1.1"/>
<path d="M406.5 214.5H408.6" stroke="#444" stroke-width="0.9"/>
<text transform="translate(406.8,217.7) scale(1,1.2)" font-size="5.8" text-anchor="end" fill="#3a3a3a" stroke="#3a3a3a" stroke-width="0.15">110</text>
<path d="M406.5 247.4H408.6" stroke="#444" stroke-width="0.9"/>
<text transform="translate(406.8,250.6) scale(1,1.2)" font-size="5.8" text-anchor="end" fill="#3a3a3a" stroke="#3a3a3a" stroke-width="0.15">100</text>
<path d="M406.5 280.2H408.6" stroke="#444" stroke-width="0.9"/>
<text transform="translate(406.8,283.4) scale(1,1.2)" font-size="5.8" text-anchor="end" fill="#3a3a3a" stroke="#3a3a3a" stroke-width="0.15">90</text>
<path d="M410.8 293.5V295.8" stroke="#444" stroke-width="0.9"/>
<text transform="translate(414.1,299.4) rotate(-48)" font-size="6.0" text-anchor="end" fill="#222" stroke="#222" stroke-width="0.22">DMSO</text>
<path d="M428.8 293.5V295.8" stroke="#444" stroke-width="0.9"/>
<text transform="translate(432.1,299.4) rotate(-48)" font-size="6.0" text-anchor="end" fill="#222" stroke="#222" stroke-width="0.22">10 nM</text>
<path d="M446.9 293.5V295.8" stroke="#444" stroke-width="0.9"/>
<text transform="translate(450.2,299.4) rotate(-48)" font-size="6.0" text-anchor="end" fill="#222" stroke="#222" stroke-width="0.22">100 nM</text>
<path d="M464.5 293.5V295.8" stroke="#444" stroke-width="0.9"/>
<text transform="translate(467.8,299.4) rotate(-48)" font-size="6.0" text-anchor="end" fill="#222" stroke="#222" stroke-width="0.22">1000 nM</text>
<text transform="translate(394.9,237.4) rotate(-90)" font-size="6.65" text-anchor="middle" fill="#222" stroke="#222" stroke-width="0.12">Motility Index (% of control)</text>
<rect x="575" y="40.3" width="9.2" height="4" rx="0.5" fill="#F0707A"/>
<text transform="translate(590.8,45.6)" font-size="9.9" fill="#1a1a1a" stroke="#1a1a1a" stroke-width="0.15">Distance</text>
<rect x="575" y="56.1" width="9.2" height="4" rx="0.5" fill="#ADA02A"/>
<text transform="translate(590.8,61.4)" font-size="9.9" fill="#1a1a1a" stroke="#1a1a1a" stroke-width="0.15">Turning</text>
<rect x="575" y="74.5" width="9.2" height="4" rx="0.5" fill="#1F8F3A"/>
<text transform="translate(590.8,79.8)" font-size="9.9" fill="#1a1a1a" stroke="#1a1a1a" stroke-width="0.15">Pausing</text>
<rect x="574.4" y="90.8" width="10.5" height="3.8" rx="1.9" fill="#12BCD8"/>
<text transform="translate(590.8,96)" font-size="9.9" fill="#1a1a1a" stroke="#1a1a1a" stroke-width="0.15">Spurting</text>
<rect x="575" y="108.8" width="9.2" height="4" rx="0.5" fill="#5597F5"/>
<text transform="translate(590.8,114.1)" font-size="9.9" fill="#1a1a1a" stroke="#1a1a1a" stroke-width="0.15">Time Thigmotaxis</text>
<rect x="574.4" y="125.8" width="10.5" height="3.8" rx="1.9" fill="#E763EE"/>
<text transform="translate(590.8,131)" font-size="9.9" fill="#1a1a1a" stroke="#1a1a1a" stroke-width="0.15">Distance Thigmotaxis</text>
</svg></div></body></html>
